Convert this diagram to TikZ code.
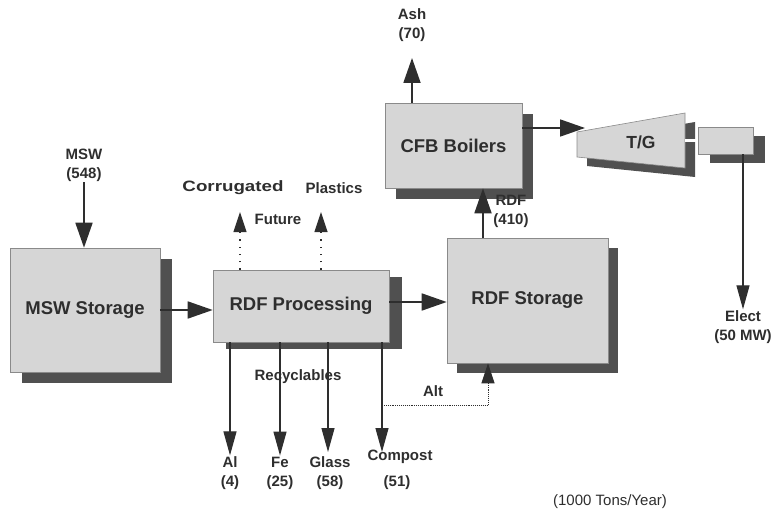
\documentclass[tikz,border=0pt]{standalone}
\usepackage{fontspec}
\setmainfont{Liberation Sans}
\usetikzlibrary{arrows.meta,shadows}
\definecolor{ink}{HTML}{2E2E2E}
\definecolor{boxfill}{HTML}{D6D6D6}
\definecolor{shadowgray}{HTML}{505050}
\definecolor{boxline}{HTML}{8A8A8A}
\tikzset{
  blk/.style={draw=boxline, line width=0.6pt, fill=boxfill, inner sep=0pt, text=ink,
    font=\bfseries\fontsize{18.5}{22}\selectfont},
  sh/.style 2 args={drop shadow={shadow xshift=#1, shadow yshift=#2, fill=shadowgray, opacity=1}},
  lbl/.style={text=ink, font=\bfseries\fontsize{15}{19}\selectfont, align=center, inner sep=1pt},
  num/.style={text=ink, font=\fontsize{15}{19}\selectfont, inner sep=1pt},
  arr/.style={draw=ink, line width=1.8pt, -{Triangle[length=25pt,width=17pt]}},
  thinarr/.style={draw=ink, line width=1.2pt, -{Triangle[length=24pt,width=13pt]}},
  dotarr/.style={draw=ink, line width=1.2pt, dash pattern=on 1.3pt off 6pt, -{Triangle[length=20pt,width=13pt]}},
  altdot/.style={draw=ink, line width=0.9pt, densely dotted, -{Triangle[length=20pt,width=13pt]}},
}
\begin{document}
\begin{tikzpicture}[x=1pt,y=-1pt]
\useasboundingbox (0,0) rectangle (780,511);

% boxes
\node[blk, sh={12pt}{-11pt}, minimum width=150pt, minimum height=124pt] (msws) at (85,310) {MSW Storage};
\node[blk, sh={13pt}{-7pt}, minimum width=176pt, minimum height=72pt] (rdfp) at (301,306) {RDF Processing};
\node[blk, sh={10pt}{-10pt}, minimum width=161pt, minimum height=125pt] (rdfs) at (527.5,300.5) {RDF Storage};
\node[blk, sh={11pt}{-11pt}, minimum width=137pt, minimum height=85pt] (cfb) at (453.5,145.5) {CFB Boilers};
\node[blk, sh={12pt}{-9pt}, minimum width=55pt, minimum height=27pt] (gen) at (725.5,140.5) {};

% turbine
\fill[shadowgray] (587,141) -- (695,122) -- (695,177) -- (587,166) -- cycle;
\draw[boxline, line width=0.6pt, fill=boxfill] (577,132) -- (685,113) -- (685,168) -- (577,157) -- cycle;
\node[text=ink, font=\bfseries\fontsize{17.5}{20}\selectfont] (tg) at (641,142) {T/G};
\coordinate (tgr) at (685,140.5);
\coordinate (tgin) at (585,128);

% labels
\node[lbl] (mswl) at (84,165) {MSW\\(548)};
\node[lbl] (ash) at (412,25) {Ash\\(70)};
\node[lbl] (rdfl) at (511,211) {RDF\\(410)};
\node[lbl] (elect) at (743,327) {Elect\\(50 MW)};
\node[lbl, font=\bfseries\fontsize{15}{19}\selectfont\addfontfeatures{FakeStretch=1.25}] (corr) at (233,188) {Corrugated};
\node[lbl] (plas) at (334,188) {Plastics};
\node[lbl] (fut) at (278,219) {Future};
\node[lbl] (recy) at (298,377) {Recyclables};
\node[lbl] (altl) at (433,391) {Alt};
\node[lbl] (al) at (230,462) {Al};
\node[lbl] (fe) at (280,462) {Fe};
\node[lbl] (glass) at (330,462) {Glass};
\node[lbl] (comp) at (400,457) {Compost};
\node[lbl] (n4) at (230,483) {(4)};
\node[lbl] (n25) at (280,483) {(25)};
\node[lbl] (n58) at (330,483) {(58)};
\node[lbl] (n51) at (397,483) {(51)};
\node[num] (unit) at (610,502) {(1000 Tons/Year)};

% helper coordinates
\coordinate (cx1) at (240,212);
\coordinate (cx2) at (321,212);
\coordinate (cpt) at (382,452);
\coordinate (alt0) at (382,405);
\coordinate (alt1) at (488,405);
\coordinate (rx) at (483,220);
\coordinate (ashtip) at (412,58);
\coordinate (gx) at (328,452);

% connectors
\draw[arr] (mswl.south) -- (mswl.south |- msws.north);
\draw[arr] (msws.east) -- (msws.east -| rdfp.west);
\draw[arr] ([yshift=4pt]rdfp.east) -- ([yshift=4pt]rdfp.east -| rdfs.west);
\draw[dotarr] (rdfp.north -| cx1) -- (cx1);
\draw[dotarr] (rdfp.north -| cx2) -- (cx2);
\draw[thinarr] (rdfp.south -| al.north) -- (al.north);
\draw[thinarr] (rdfp.south -| fe.north) -- (fe.north);
\draw[thinarr] (rdfp.south -| gx) -- (gx);
\draw[thinarr] (rdfp.south -| cpt) -- (cpt);
\draw[altdot] (alt0) -- (alt1) -- (rdfs.south -| alt1);
\draw[arr] (rdfs.north -| rx) -- (cfb.south -| rx);
\draw[arr] (cfb.north -| ashtip) -- (ashtip);
\draw[arr] ([yshift=17.5pt]cfb.east) -- (tgin);
\draw[boxline, double=white, double distance=2.5pt, line width=0.7pt] (tgr) -- (gen.west);
\draw[thinarr] (gen.south -| elect.north) -- (elect.north);
\end{tikzpicture}
\end{document}
